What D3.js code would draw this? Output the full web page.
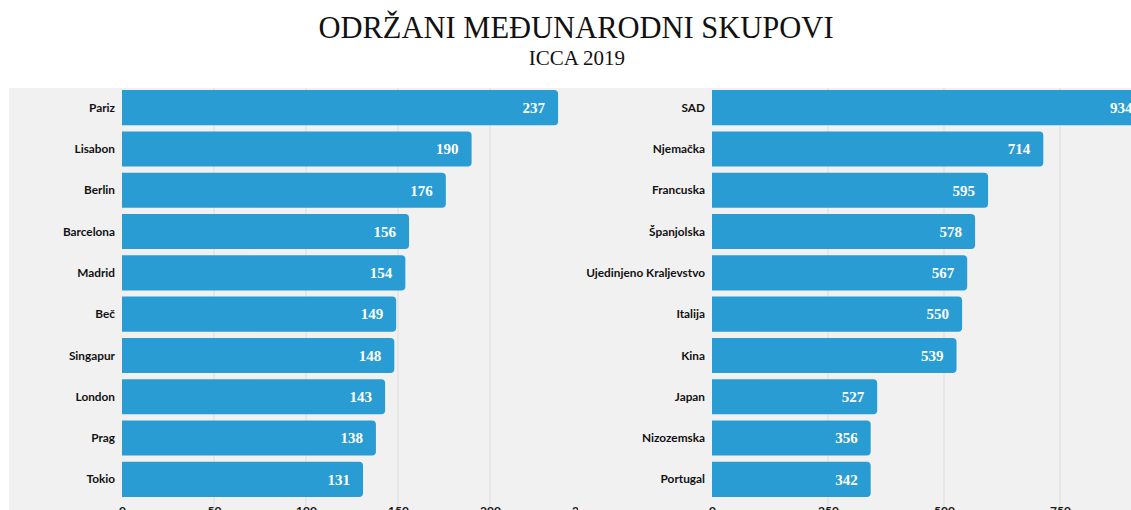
<!DOCTYPE html>
<html>
<head>
<meta charset="utf-8">
<script src="https://cdn.jsdelivr.net/npm/d3@7"></script>
<style>
  html, body { margin: 0; padding: 0; background: #fff; overflow: hidden; }
  svg { display: block; }
</style>
</head>
<body>
<svg id="chart" width="1131" height="510"></svg>
<script>
// cities (left panel)
var cities = ["Pariz", "Lisabon", "Berlin", "Barcelona", "Madrid", "Beč", "Singapur", "London", "Prag", "Tokio"];
var cityValues = [237, 190, 176, 156, 154, 149, 148, 143, 138, 131];
var cityTicks = [0, 50, 100, 150, 200, 250];

// countries (right panel) - bar lengths as drawn, labels as printed
var countries = ["SAD", "Njemačka", "Francuska", "Španjolska", "Ujedinjeno Kraljevstvo", "Italija", "Kina", "Japan", "Nizozemska", "Portugal"];
var countryValues = [934, 714, 595, 567, 550, 539, 527, 356, 342, 342];
var countryLabels = [934, 714, 595, 578, 567, 550, 539, 527, 356, 342];
var countryTicks = [0, 250, 500, 750];

var svg = d3.select("#chart");
var W = 1131, H = 510;
var bandTop = 87, bandBottom = 500;

// light panel behind both charts
svg.append("rect")
	.attr("x", 9).attr("y", 88)
	.attr("width", W - 9).attr("height", H - 88)
	.attr("fill", "#f1f1f1");

svg.append("text")
	.attr("x", 576).attr("y", 38)
	.attr("text-anchor", "middle")
	.style("font-family", "'Liberation Serif', 'Times New Roman', serif")
	.style("font-size", "30.5px")
	.attr("fill", "#111")
	.text("ODRŽANI MEĐUNARODNI SKUPOVI");

svg.append("text")
	.attr("x", 577).attr("y", 65)
	.attr("text-anchor", "middle")
	.style("font-family", "'Liberation Serif', 'Times New Roman', serif")
	.style("font-size", "21px")
	.attr("fill", "#111")
	.text("ICCA 2019");

// bar with square left end and rounded right end
function barPath(x0, y0, w, h, r) {
	r = Math.min(r, w / 2, h / 2);
	return "M" + x0 + "," + y0 +
		"H" + (x0 + w - r) +
		"Q" + (x0 + w) + "," + y0 + " " + (x0 + w) + "," + (y0 + r) +
		"V" + (y0 + h - r) +
		"Q" + (x0 + w) + "," + (y0 + h) + " " + (x0 + w - r) + "," + (y0 + h) +
		"H" + x0 + "Z";
}

function drawPanel(opts) {
	var g = svg.append("g");
	if (opts.clip) {
		svg.append("clipPath").attr("id", opts.clip.id)
			.append("rect")
			.attr("x", 0).attr("y", 0)
			.attr("width", opts.clip.w).attr("height", H);
		g.attr("clip-path", "url(#" + opts.clip.id + ")");
	}

	var x = d3.scaleLinear()
		.domain([0, opts.tickEnd])
		.range([opts.x0, opts.x1]);

	var y = d3.scaleBand()
		.domain(opts.names)
		.range([bandTop, bandBottom])
		.paddingInner(0.15)
		.paddingOuter(0.075);

	// grid
	g.selectAll(".grid")
		.data(opts.ticks.slice(1))
		.enter()
		.append("line")
		.attr("class", "grid")
		.attr("x1", function(d) { return x(d); })
		.attr("x2", function(d) { return x(d); })
		.attr("y1", 88).attr("y2", H)
		.attr("stroke", "#dddddd")
		.attr("stroke-width", 1);

	// axis labels (mostly below the visible area)
	var axis = d3.axisBottom(x)
		.tickValues(opts.ticks)
		.tickSize(0)
		.tickPadding(0)
		.tickFormat(d3.format("d"));

	var ax = g.append("g")
		.attr("transform", "translate(0,506)")
		.call(axis);
	ax.select(".domain").remove();
	ax.selectAll("text")
		.attr("dy", "0.71em")
		.style("font-family", "Lato, 'Open Sans', sans-serif")
		.style("font-weight", "700")
		.style("font-size", "12px")
		.attr("fill", "#1a1a1a");

	var rows = opts.names.map(function(n, i) {
		return { name: n, value: opts.values[i], label: opts.labels[i] };
	});

	g.selectAll(".bar")
		.data(rows)
		.enter()
		.append("path")
		.attr("class", "bar")
		.attr("d", function(d) {
			return barPath(x(0), y(d.name), x(d.value) - x(0), y.bandwidth(), 4);
		})
		.attr("fill", "#2a9cd4");

	g.selectAll(".val")
		.data(rows)
		.enter()
		.append("text")
		.attr("class", "val")
		.attr("x", function(d) { return x(d.value) - 13; })
		.attr("y", function(d) { return y(d.name) + y.bandwidth() / 2; })
		.attr("dy", "0.35em")
		.attr("text-anchor", "end")
		.style("font-family", "'Liberation Serif', 'Times New Roman', serif")
		.style("font-weight", "700")
		.style("font-size", "15px")
		.attr("fill", "#fff")
		.text(function(d) { return d.label; });

	g.selectAll(".cat")
		.data(rows)
		.enter()
		.append("text")
		.attr("class", "cat")
		.attr("x", opts.x0 - 7)
		.attr("y", function(d) { return y(d.name) + y.bandwidth() / 2; })
		.attr("dy", "0.35em")
		.attr("text-anchor", "end")
		.style("font-family", "Lato, 'Open Sans', sans-serif")
		.style("font-weight", "700")
		.style("font-size", "11.8px")
		.attr("fill", "#111")
		.text(function(d) { return d.name; });
}

drawPanel({
	names: cities, values: cityValues, labels: cityValues,
	ticks: cityTicks, tickEnd: 250, x0: 122, x1: 582,
	clip: { id: "leftclip", w: 578 }
});

drawPanel({
	names: countries, values: countryValues, labels: countryLabels,
	ticks: countryTicks, tickEnd: 750, x0: 712, x1: 1060
});
</script>
</body>
</html>
